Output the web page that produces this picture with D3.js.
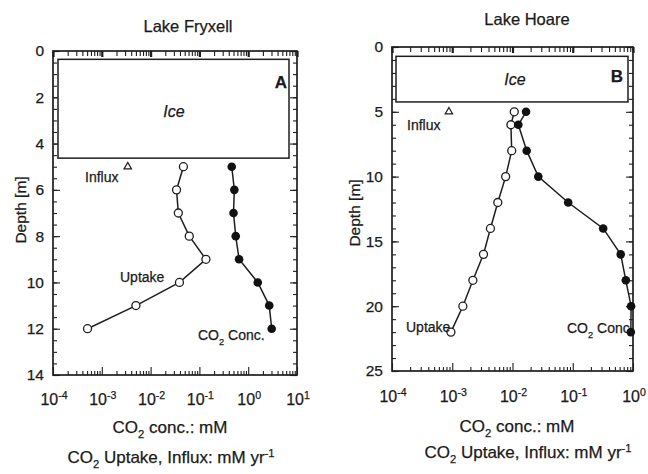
<!DOCTYPE html>
<html>
<head>
<meta charset="utf-8">
<script src="https://cdn.jsdelivr.net/npm/d3@7"></script>
<style>
body { margin: 0; background: #fff; }
svg text { font-family: "Liberation Sans", Arial, sans-serif; fill: #1a1a1a; stroke: #1a1a1a; stroke-width: 0.25px; }
</style>
</head>
<body>
<svg id="chart" width="648" height="474"></svg>
<script>
// Lake Fryxell (A)
const fryxellDepth = [5, 6, 7, 8, 9, 10, 11, 12];
const fryxellUptake = [0.047, 0.034, 0.037, 0.062, 0.136, 0.039, 0.005, 0.00051];
const fryxellConc = [0.46, 0.52, 0.50, 0.555, 0.65, 1.57, 2.7, 3.03];
const fryxellInfluxDepth = [5];
const fryxellInflux = [0.0034];
const fryxellIce = [0.36, 4.63];
const fryxellDepthTicks = [0, 2, 4, 6, 8, 10, 12, 14];
const fryxellDecades = [-4, -3, -2, -1, 0, 1];

// Lake Hoare (B)
const hoareDepth = [5, 6, 8, 10, 12, 14, 16, 18, 20, 22];
const hoareUptake = [0.0107, 0.0094, 0.0097, 0.0077, 0.0057, 0.0043, 0.0033, 0.0022, 0.0015, 0.00095];
const hoareConc = [0.0168, 0.0125, 0.0172, 0.0268, 0.084, 0.32, 0.625, 0.76, 0.93, 0.92];
const hoareInfluxDepth = [5];
const hoareInflux = [0.00088];
const hoareIce = [0.72, 4.24];
const hoareDepthTicks = [0, 5, 10, 15, 20, 25];
const hoareDecades = [-4, -3, -2, -1, 0];

const svg = d3.select('#chart');
const ink = '#1e1e1e';

const panels = [
  {
    title: 'Lake Fryxell', letter: 'A',
    depth: fryxellDepth, uptake: fryxellUptake, conc: fryxellConc,
    influxDepth: fryxellInfluxDepth, influx: fryxellInflux, ice: fryxellIce,
    depthTicks: fryxellDepthTicks, decades: fryxellDecades, minorStep: 0.5,
    left: 53, right: 297, top: 51, bottom: 375,
    iceInset: [5, 8],
    titlePos: [188, 32], letterPos: [281, 88], icePos: [174, 117],
    influxPos: [85, 182], uptakePos: [120, 282], concPos: [198, 340],
    depthLabel: [21, 210], tickBase: 405,
    axisTitle1: [170, 433], axisTitle2: [171, 463]
  },
  {
    title: 'Lake Hoare', letter: 'B',
    depth: hoareDepth, uptake: hoareUptake, conc: hoareConc,
    influxDepth: hoareInfluxDepth, influx: hoareInflux, ice: hoareIce,
    depthTicks: hoareDepthTicks, decades: hoareDecades, minorStep: 1,
    left: 392, right: 633, top: 47, bottom: 371,
    iceInset: [4, 5],
    titlePos: [527, 25], letterPos: [617, 82], icePos: [515, 85],
    influxPos: [407, 130], uptakePos: [406, 332], concPos: [567, 333],
    depthLabel: [355, 213], tickBase: 402,
    axisTitle1: [517, 432], axisTitle2: [528, 458]
  }
];

function subText(g, pos, parts, size, anchor) {
  const t = g.append('text')
    .attr('x', pos[0]).attr('y', pos[1])
    .attr('font-size', size)
    .attr('text-anchor', anchor || 'middle');
  let shift = 0;
  parts.forEach(p => {
    const s = t.append('tspan').text(p.t);
    const want = p.sub ? 5 : p.sup ? -6 : 0;
    if (want - shift !== 0) s.attr('dy', want - shift);
    shift = want;
    if (p.sub || p.sup) s.attr('font-size', size * 0.66);
  });
  return t;
}

panels.forEach(p => {
  const g = svg.append('g');
  const lo = d3.min(p.decades), hi = d3.max(p.decades);
  const x = d3.scaleLog().domain([Math.pow(10, lo), Math.pow(10, hi)]).range([p.left, p.right]);
  const maxDepth = d3.max(p.depthTicks);
  const y = d3.scaleLinear().domain([0, maxDepth]).range([p.top, p.bottom]);

  const majors = p.decades.map(d => Math.pow(10, d));
  const minors = [];
  p.decades.slice(0, -1).forEach(d => {
    for (let k = 2; k <= 9; k++) minors.push(k * Math.pow(10, d));
  });
  const depthMinor = d3.range(0, maxDepth + 0.001, p.minorStep);

  const tidy = a => a.call(s => s.select('.domain').remove())
    .call(s => s.selectAll('line').attr('stroke', ink).attr('stroke-width', 1.1));

  // bottom axis, ticks pointing in
  g.append('g').attr('transform', `translate(0,${p.bottom})`)
    .call(d3.axisBottom(x).tickValues(minors).tickSize(-4).tickFormat(''))
    .call(tidy);
  g.append('g').attr('transform', `translate(0,${p.bottom})`)
    .call(d3.axisBottom(x).tickValues(majors).tickSize(-8).tickFormat(''))
    .call(tidy);
  // top axis
  g.append('g').attr('transform', `translate(0,${p.top})`)
    .call(d3.axisTop(x).tickValues(minors).tickSize(-5).tickFormat(''))
    .call(tidy);
  g.append('g').attr('transform', `translate(0,${p.top})`)
    .call(d3.axisTop(x).tickValues(majors).tickSize(-6).tickFormat(''))
    .call(s => s.select('.domain').remove())
    .call(s => s.selectAll('line').attr('stroke', ink).attr('stroke-width', 2.2));
  // left axis
  g.append('g').attr('transform', `translate(${p.left},0)`)
    .call(d3.axisLeft(y).tickValues(depthMinor).tickSize(-4).tickFormat(''))
    .call(tidy);
  const yAxis = g.append('g').attr('transform', `translate(${p.left},0)`)
    .call(d3.axisLeft(y).tickValues(p.depthTicks).tickSize(-7).tickPadding(9).tickSizeOuter(0))
    .call(tidy);
  yAxis.attr('font-size', null).attr('font-family', null);
  yAxis.selectAll('text').attr('font-size', 15.5).attr('fill', ink);
  // right axis
  g.append('g').attr('transform', `translate(${p.right},0)`)
    .call(d3.axisRight(y).tickValues(depthMinor).tickSize(-4).tickFormat(''))
    .call(tidy);
  g.append('g').attr('transform', `translate(${p.right},0)`)
    .call(d3.axisRight(y).tickValues(p.depthTicks).tickSize(-7).tickFormat(''))
    .call(tidy);

  // frame
  g.append('rect')
    .attr('x', p.left).attr('y', p.top)
    .attr('width', p.right - p.left).attr('height', p.bottom - p.top)
    .attr('fill', 'none').attr('stroke', ink).attr('stroke-width', 1.7);

  // x tick labels 10^n
  p.decades.forEach(d => {
    subText(g, [x(Math.pow(10, d)) + 1, p.tickBase],
      [{t: '10'}, {t: d < 0 ? '-' + (-d) : String(d), sup: true}], 16);
  });

  // ice box
  g.append('rect')
    .attr('x', p.left + p.iceInset[0]).attr('y', y(p.ice[0]))
    .attr('width', p.right - p.left - p.iceInset[0] - p.iceInset[1])
    .attr('height', y(p.ice[1]) - y(p.ice[0]))
    .attr('fill', '#fff').attr('stroke', ink).attr('stroke-width', 1.5);
  g.append('text').attr('x', p.icePos[0]).attr('y', p.icePos[1])
    .attr('text-anchor', 'middle').attr('font-size', 16).attr('font-style', 'italic')
    .text('Ice');
  g.append('text').attr('x', p.letterPos[0]).attr('y', p.letterPos[1])
    .attr('text-anchor', 'middle').attr('font-size', 17).attr('font-weight', 'bold')
    .text(p.letter);

  const uptake = p.depth.map((d, i) => ({depth: d, v: p.uptake[i]}));
  const conc = p.depth.map((d, i) => ({depth: d, v: p.conc[i]}));
  const line = d3.line().x(d => x(d.v)).y(d => y(d.depth));

  [uptake, conc].forEach(s => {
    g.append('path').datum(s).attr('d', line)
      .attr('fill', 'none').attr('stroke', ink).attr('stroke-width', 1.5);
  });
  g.selectAll('.up').data(uptake).enter().append('circle')
    .attr('cx', d => x(d.v)).attr('cy', d => y(d.depth)).attr('r', 4)
    .attr('fill', '#fff').attr('stroke', ink).attr('stroke-width', 1.3);
  g.selectAll('.co').data(conc).enter().append('circle')
    .attr('cx', d => x(d.v)).attr('cy', d => y(d.depth)).attr('r', 4.3)
    .attr('fill', '#111');
  g.selectAll('.inf').data(p.influx).enter().append('path')
    .attr('d', d3.symbol(d3.symbolTriangle, 24))
    .attr('transform', (d, i) => `translate(${x(d)},${y(p.influxDepth[i])})`)
    .attr('fill', '#fff').attr('stroke', ink).attr('stroke-width', 1.2);

  // in-plot labels
  g.append('text').attr('x', p.influxPos[0]).attr('y', p.influxPos[1])
    .attr('font-size', 14).text('Influx');
  g.append('text').attr('x', p.uptakePos[0]).attr('y', p.uptakePos[1])
    .attr('font-size', 14).text('Uptake');
  subText(g, p.concPos, [{t: 'CO'}, {t: '2', sub: true}, {t: ' Conc.'}], 14, 'start');

  // titles
  g.append('text').attr('x', p.titlePos[0]).attr('y', p.titlePos[1])
    .attr('text-anchor', 'middle').attr('font-size', 16.5).text(p.title);
  g.append('text')
    .attr('transform', `translate(${p.depthLabel[0] + 5},${p.depthLabel[1]}) rotate(-90)`)
    .attr('text-anchor', 'middle').attr('font-size', 15.5).text('Depth [m]');
  subText(g, p.axisTitle1, [{t: 'CO'}, {t: '2', sub: true}, {t: ' conc.: mM'}], 17);
  subText(g, p.axisTitle2,
    [{t: 'CO'}, {t: '2', sub: true}, {t: ' Uptake, Influx: mM yr'}, {t: '-1', sup: true}], 17);
});
</script>
</body>
</html>
